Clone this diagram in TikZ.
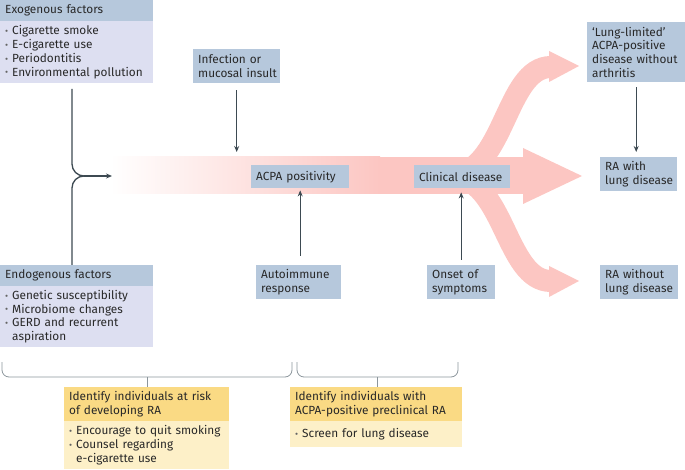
\documentclass[tikz,border=0pt]{standalone}
\usepackage{fontspec}
\setmainfont{Fira Sans}
\usetikzlibrary{arrows.meta}
\definecolor{bluebox}{RGB}{182,200,220}
\definecolor{lavbox}{RGB}{221,223,241}
\definecolor{yelhead}{RGB}{250,218,132}
\definecolor{yelbody}{RGB}{253,240,200}
\definecolor{pinkc}{RGB}{252,198,194}
\definecolor{linec}{RGB}{61,74,82}
\definecolor{bracec}{RGB}{140,150,156}
\definecolor{txt}{RGB}{40,40,40}
\definecolor{bulc}{RGB}{100,100,100}
\newcommand\itm{\makebox[7pt][l]{\textcolor{bulc}{\raisebox{0.3pt}{\scalebox{0.8}{\textbullet}}}}}
\newcommand\cnt{\hspace*{7pt}}
\newcommand\nb[1]{\mbox{#1}}
\begin{document}
\begin{tikzpicture}[x=1pt,y=-1pt,
  font=\fontsize{11.8}{13.7}\selectfont,
  box/.style={draw=none, inner xsep=5pt, inner ysep=0pt, anchor=north west, align=left, text=txt},
  conn/.style={draw=linec, line width=1.3pt},
  arr/.style={conn, -{Stealth[length=6pt,width=5pt]}},
  brace/.style={draw=bracec, line width=0.8pt, rounded corners=7pt}]
\useasboundingbox (0,0) rectangle (685,470);

% pink arrows
\draw[pinkc, line width=22pt] (450,175) .. controls (505,175) and (505,67) .. (551,67);
\draw[pinkc, line width=22pt] (450,176) .. controls (505,176) and (505,281) .. (551,281);
\shade[left color=white, right color=pinkc, draw=none] (110,157) rectangle (380,194);
\fill[pinkc] (379,157) rectangle (524,194);
\fill[pinkc] (523,148) -- (582,176) -- (523,204) -- cycle;
\fill[pinkc] (549,51) -- (579,66) -- (549,82) -- cycle;
\fill[pinkc] (549,266) -- (579,281) -- (549,297) -- cycle;
\coordinate (bandtop) at (300,157);

% left boxes
\node[box, fill=bluebox, minimum width=153pt, minimum height=21pt, text width=143pt] (exoh) at (0,0) {Exogenous factors};
\node[box, fill=lavbox, minimum width=153pt, minimum height=62pt, text width=143pt] (exob) at (0,21) {\itm Cigarette smoke\\\itm E-cigarette use\\\itm Periodontitis\\\itm \nb{Environmental pollution}};
\node[box, fill=bluebox, minimum width=153pt, minimum height=21pt, text width=143pt] (endoh) at (0,265) {Endogenous factors};
\node[box, fill=lavbox, minimum width=153pt, minimum height=61pt, text width=143pt] (endob) at (0,286) {\itm Genetic susceptibility\\\itm Microbiome changes\\\itm GERD and recurrent\\\cnt aspiration};

% middle boxes
\node[box, fill=bluebox, minimum width=87pt, minimum height=34pt, text width=77pt] (infect) at (193,49) {\nb{Infection or}\\\nb{mucosal insult}};
\node[box, fill=bluebox, minimum width=98pt, minimum height=23pt, text width=88pt] (acpa) at (251,165) {\nb{ACPA positivity}};
\node[box, fill=bluebox, minimum width=96pt, minimum height=23pt, text width=86pt] (clin) at (414,165) {\nb{Clinical disease}};
\node[box, fill=bluebox, minimum width=85pt, minimum height=34pt, text width=75pt] (auto) at (256,265) {\nb{Autoimmune}\\\nb{response}};
\node[box, fill=bluebox, minimum width=68pt, minimum height=34pt, text width=58pt] (onset) at (427,265) {\nb{Onset of}\\\nb{symptoms}};

% right boxes
\node[box, fill=bluebox, minimum width=98pt, minimum height=60pt, text width=88pt] (lunglim) at (587,22) {\nb{‘Lung-limited’}\\\nb{ACPA-positive}\\\nb{disease without}\\\nb{arthritis}};
\node[box, fill=bluebox, minimum width=77pt, minimum height=34pt, text width=67pt] (rawith) at (600,157) {\nb{RA with}\\\nb{lung disease}};
\node[box, fill=bluebox, minimum width=78pt, minimum height=34pt, text width=68pt] (rawithout) at (600,265) {\nb{RA without}\\\nb{lung disease}};

% bottom boxes
\node[box, fill=yelhead, minimum width=165pt, minimum height=34pt, text width=155pt] (y1h) at (64,387) {\nb{Identify individuals at risk}\\\nb{of developing RA}};
\node[box, fill=yelbody, minimum width=165pt, minimum height=48pt, text width=155pt] (y1b) at (64,421) {\itm \nb{Encourage to quit smoking}\\\itm Counsel regarding\\\cnt e-cigarette use};
\node[box, fill=yelhead, minimum width=172pt, minimum height=34pt, text width=162pt] (y2h) at (290,387) {\nb{Identify individuals with}\\\nb{ACPA-positive preclinical RA}};
\node[box, fill=yelbody, minimum width=172pt, minimum height=26pt, text width=162pt] (y2b) at (290,421) {\itm Screen for lung disease};

% left merge connector
\coordinate (mtop) at (72,89);
\coordinate (mjoin) at (84,176);
\coordinate (mend) at (112,176);
\coordinate (mbot) at (72,265);
\draw[conn] (mtop) -- (72,164) to[out=-90,in=180] (mjoin);
\draw[conn] (mbot) -- (72,188) to[out=90,in=180] (mjoin);
\draw[arr] (mjoin) -- (mend);

% vertical arrows
\draw[arr, shorten <=7pt, shorten >=5pt] (infect.south) -- (infect.south |- bandtop);
\draw[arr, shorten <=9pt, shorten >=2pt] (auto.north -| acpa.south) -- (acpa.south);
\draw[arr, shorten <=5pt, shorten >=4pt] (onset.north) -- (onset.north |- clin.south);
\draw[arr, shorten <=5pt, shorten >=5pt] (lunglim.south) -- (lunglim.south |- rawith.north);

% braces
\coordinate (b1c) at (147,377);
\coordinate (b2c) at (377,377);
\draw[brace] (2,362) -- (2,377) -- (292,377) -- (292,362);
\draw[brace] (297,362) -- (297,377) -- (458,377) -- (458,362);
\draw[draw=bracec, line width=0.8pt] (b1c) -- (b1c |- y1h.north);
\draw[draw=bracec, line width=0.8pt] (b2c) -- (b2c |- y2h.north);
\end{tikzpicture}
\end{document}
